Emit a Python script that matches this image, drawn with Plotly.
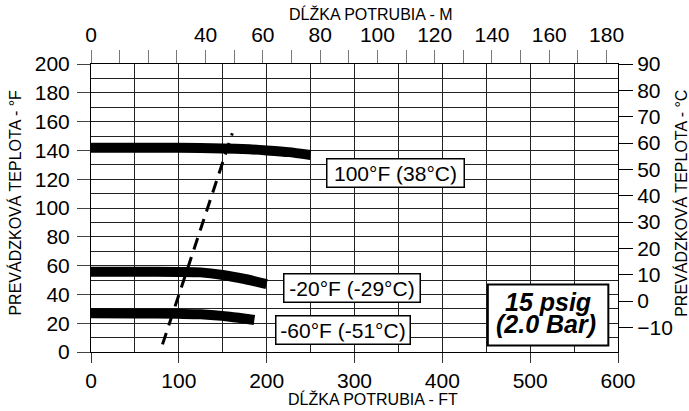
import plotly.graph_objects as go

# ---- data ----
ft_100 = [0, 50, 100, 150, 180, 200, 225, 250]
f_100 = [141.8, 141.8, 141.8, 141.4, 140.8, 140.0, 138.8, 136.8]

ft_m20 = [0, 50, 100, 125, 150, 175, 200]
f_m20 = [55.8, 55.8, 55.6, 55.3, 53.5, 50.7, 47.2]

ft_m60 = [0, 50, 100, 125, 158, 186]
f_m60 = [26.9, 26.8, 26.5, 26.2, 24.5, 22.2]

dash_ft = [81.4, 160.9]
dash_f = [5.3, 151.9]

curve_labels = ["100°F (38°C)", "-20°F (-29°C)", "-60°F (-51°C)"]

ft_ticks = [0, 100, 200, 300, 400, 500, 600]
f_ticks = [0, 20, 40, 60, 80, 100, 120, 140, 160, 180, 200]
m_ticks = list(range(0, 190, 10))
m_ticktext = ["" if (v % 20 != 0 or v == 20) else str(v) for v in m_ticks]
c_ticks = [-10, 0, 10, 20, 30, 40, 50, 60, 70, 80, 90]

FONT = "Arial, Liberation Sans, sans-serif"

fig = go.Figure()

for xs, ys in [(ft_100, f_100), (ft_m20, f_m20), (ft_m60, f_m60)]:
    fig.add_trace(go.Scatter(x=xs, y=ys, mode="lines",
                             line=dict(color="black", width=10, shape="spline", smoothing=0.6),
                             hoverinfo="skip"))

fig.add_trace(go.Scatter(x=dash_ft, y=dash_f, mode="lines",
                         line=dict(color="black", width=3, dash="12px,8px"),
                         hoverinfo="skip"))

# helper traces so the secondary axes are drawn
fig.add_trace(go.Scatter(x=m_ticks[:1], y=f_ticks[:1], xaxis="x2", yaxis="y",
                         mode="markers", marker=dict(opacity=0), hoverinfo="skip"))
fig.add_trace(go.Scatter(x=ft_ticks[:1], y=c_ticks[1:2], xaxis="x", yaxis="y2",
                         mode="markers", marker=dict(opacity=0), hoverinfo="skip"))

grid_c = "#222222"

fig.update_layout(
    width=689, height=411,
    margin=dict(l=91, r=71, t=64, b=59),
    plot_bgcolor="white", paper_bgcolor="white",
    showlegend=False,
    font=dict(family=FONT, size=21, color="black"),
    xaxis=dict(range=[0, 600], tickmode="array", tickvals=ft_ticks,
               ticks="outside", ticklen=10, tickcolor="#333333", tickwidth=1,
               showgrid=True, gridcolor=grid_c, gridwidth=1,
               minor=dict(tickmode="linear", tick0=0, dtick=50, showgrid=True,
                          gridcolor=grid_c, gridwidth=1, ticks=""),
               showline=True, linecolor="black", linewidth=1, mirror=True,
               zeroline=False, fixedrange=True),
    yaxis=dict(range=[0, 200], tickmode="array", tickvals=f_ticks,
               ticks="outside", ticklen=13, tickcolor="#444444", tickwidth=1,
               ticklabelstandoff=3,
               showgrid=True, gridcolor=grid_c, gridwidth=1,
               minor=dict(tickmode="linear", tick0=0, dtick=10, showgrid=True,
                          gridcolor=grid_c, gridwidth=1, ticks=""),
               showline=True, linecolor="black", linewidth=1, mirror=True,
               zeroline=False, fixedrange=True),
    xaxis2=dict(overlaying="x", side="top", anchor="y", range=[0, 184],
                tickmode="array", tickvals=m_ticks, ticktext=m_ticktext,
                ticks="outside", ticklen=13, tickcolor="#777777", tickwidth=1,
                showgrid=False, showline=False, zeroline=False, fixedrange=True),
    yaxis2=dict(overlaying="y", side="right", anchor="x", range=[-19.34, 90],
                tickmode="array", tickvals=c_ticks,
                ticks="outside", ticklen=14, tickcolor="black", tickwidth=1,
                showgrid=False, showline=False, zeroline=False, fixedrange=True),
)

# curve labels
for txt, xv, yv, w in zip(curve_labels, [347.2, 297.1, 286.7], [124.2, 44.5, 15.6], [132, 131, 129]):
    fig.add_annotation(x=xv, y=yv, xref="x", yref="y", text=txt, showarrow=False,
                       font=dict(family=FONT, size=21, color="black"),
                       bgcolor="white", bordercolor="black", borderwidth=1.5,
                       borderpad=2, width=w, height=23)

# pressure box
fig.add_shape(type="rect", xref="x", yref="y", x0=451.8, x1=589.0, y0=4.6, y1=46.9,
              line=dict(color="black", width=2), fillcolor="white", layer="above")
fig.add_annotation(x=520.7, y=34.5, xref="x", yref="y", text="<b><i>15 psig</i></b>",
                   showarrow=False, font=dict(family=FONT, size=25, color="black"))
fig.add_annotation(x=518, y=19.5, xref="x", yref="y", text="<b><i>(2.0 Bar)</i></b>",
                   showarrow=False, font=dict(family=FONT, size=25, color="black"))

# axis titles
title_font = dict(family=FONT, size=16, color="black")
common = dict(xref="paper", yref="paper", showarrow=False, font=title_font,
              xanchor="center", yanchor="middle")
fig.add_annotation(x=0.536, y=-0.163, text="DĹŽKA POTRUBIA - FT", **common)
fig.add_annotation(x=0.532, y=1.172, text="DĹŽKA POTRUBIA - M", **common)
fig.add_annotation(x=-0.146, y=0.519, text="PREVÁDZKOVÁ TEPLOTA - °F", textangle=-90, **common)
fig.add_annotation(x=1.119, y=0.517, text="PREVÁDZKOVÁ TEPLOTA - °C", textangle=-90, **common)

fig.write_html("out.html")
